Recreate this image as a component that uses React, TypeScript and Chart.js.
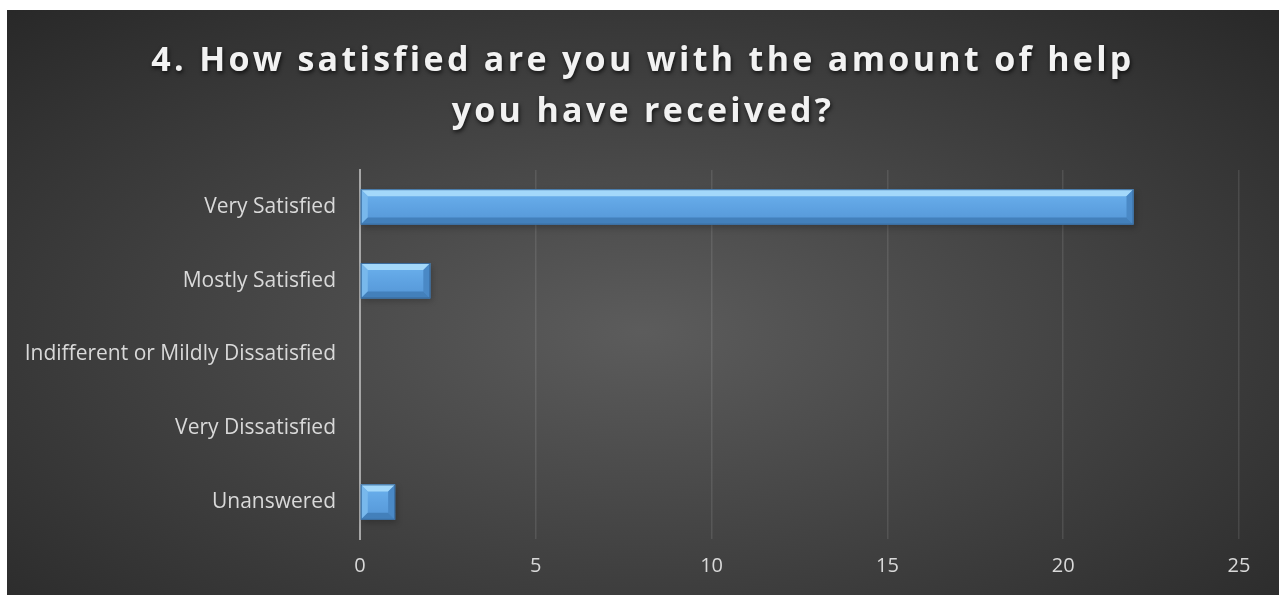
import React, { useEffect, useRef } from "react";
import { Chart, registerables } from "chart.js";

Chart.register(...registerables);

const categories = [
  "Very Satisfied",
  "Mostly Satisfied",
  "Indifferent or Mildly Dissatisfied",
  "Very Dissatisfied",
  "Unanswered",
];
const responses = [22, 2, 0, 0, 1];
const xMin = 0;
const xMax = 25;
const xStep = 5;
const titleLines = [
  "4. How satisfied are you with the amount of help",
  "you have received?",
];

const titlePlugin = {
  id: "bevelTitle",
  afterDraw(chart: any) {
    const ctx = chart.ctx;
    ctx.save();
    ctx.font = "bold 34px 'Open Sans'";
    (ctx as any).letterSpacing = "3.3px";
    ctx.textAlign = "center";
    ctx.textBaseline = "alphabetic";
    ctx.fillStyle = "#f2f2f2";
    ctx.shadowColor = "rgba(0,0,0,0.75)";
    ctx.shadowBlur = 4;
    ctx.shadowOffsetX = 1;
    ctx.shadowOffsetY = 2;
    const cx = chart.width / 2;
    ctx.fillText(titleLines[0], cx, 61);
    ctx.fillText(titleLines[1], cx, 112);
    ctx.restore();
  },
};

const bevelPlugin = {
  id: "bevelBars",
  beforeDatasetsDraw(chart: any) {
    const ctx = chart.ctx;
    const meta = chart.getDatasetMeta(0);
    ctx.save();
    meta.data.forEach((el: any) => {
      const p = el.getProps(["x", "y", "base", "height"], true);
      const x0 = Math.min(p.x, p.base);
      const x1 = Math.max(p.x, p.base);
      if (x1 - x0 < 1) return;
      ctx.shadowColor = "rgba(0,0,0,0.55)";
      ctx.shadowBlur = 6;
      ctx.shadowOffsetX = 2;
      ctx.shadowOffsetY = 3;
      ctx.fillStyle = "rgba(0,0,0,0.4)";
      ctx.fillRect(x0, p.y - p.height / 2, x1 - x0, p.height);
    });
    ctx.restore();
  },
  afterDatasetsDraw(chart: any) {
    const ctx = chart.ctx;
    const meta = chart.getDatasetMeta(0);
    ctx.save();
    meta.data.forEach((el: any) => {
      const p = el.getProps(["x", "y", "base", "height"], true);
      const x0 = Math.min(p.x, p.base);
      const x1 = Math.max(p.x, p.base);
      if (x1 - x0 < 1) return;
      const y0 = p.y - p.height / 2;
      const y1 = p.y + p.height / 2;
      const b = Math.min(7, (x1 - x0) / 2, p.height / 2);
      const g = ctx.createLinearGradient(0, y0, 0, y1);
      g.addColorStop(0, "#6cb2ee");
      g.addColorStop(0.5, "#5fa3e2");
      g.addColorStop(1, "#5496d6");
      ctx.fillStyle = g;
      ctx.fillRect(x0, y0, x1 - x0, y1 - y0);
      const poly = (pts: number[][], color: string) => {
        ctx.beginPath();
        ctx.moveTo(pts[0][0], pts[0][1]);
        for (let i = 1; i < pts.length; i++) ctx.lineTo(pts[i][0], pts[i][1]);
        ctx.closePath();
        ctx.fillStyle = color;
        ctx.fill();
      };
      poly([[x0, y0], [x1, y0], [x1 - b, y0 + b], [x0 + b, y0 + b]], "#a3d8fa");
      poly([[x0, y0], [x0 + b, y0 + b], [x0 + b, y1 - b], [x0, y1]], "#78b8ec");
      poly([[x1, y0], [x1, y1], [x1 - b, y1 - b], [x1 - b, y0 + b]], "#4a89c6");
      poly([[x0, y1], [x1, y1], [x1 - b, y1 - b], [x0 + b, y1 - b]], "#4380bb");
      ctx.strokeStyle = "#3a6c9e";
      ctx.lineWidth = 1;
      ctx.strokeRect(x0 + 0.5, y0 + 0.5, x1 - x0 - 1, y1 - y0 - 1);
    });
    ctx.restore();
  },
};

export default function App() {
  const ref = useRef<HTMLCanvasElement | null>(null);
  useEffect(() => {
    if (!ref.current) return;
    const chart = new Chart(ref.current, {
      type: "bar",
      data: {
        labels: categories,
        datasets: [
          {
            data: responses,
            backgroundColor: "rgba(0,0,0,0)",
            borderWidth: 0,
            categoryPercentage: 1,
            barPercentage: 0.48,
          },
        ],
      },
      options: {
        indexAxis: "y",
        animation: false,
        responsive: false,
        maintainAspectRatio: false,
        events: [],
        layout: { padding: { top: 160, left: 0, right: 40, bottom: 2 } },
        plugins: {
          legend: { display: false },
          title: { display: false },
          tooltip: { enabled: false },
        },
        scales: {
          x: {
            min: xMin,
            max: xMax,
            ticks: {
              stepSize: xStep,
              color: "#d9d9d9",
              font: { family: "'Open Sans'", size: 20 },
              padding: 15,
            },
            grid: {
              color: "rgba(255,255,255,0.1)",
              lineWidth: 1.5,
              drawTicks: false,
            },
            border: { display: false },
          },
          y: {
            ticks: {
              color: "#d9d9d9",
              font: { family: "'Open Sans'", size: 21 },
              padding: 24,
            },
            grid: { display: false, drawTicks: false },
            border: { display: true, color: "#a6a6a6", width: 2 },
            afterFit: (s: any) => {
              s.width = 353;
            },
          },
        },
      },
      plugins: [bevelPlugin, titlePlugin],
    });
    return () => chart.destroy();
  }, []);
  return (
    <div
      style={{
        position: "fixed",
        left: 7,
        top: 10,
        width: 1272,
        height: 585,
        background:
          "radial-gradient(ellipse 75% 80% at 50% 55%, #5c5c5c 0%, #3e3e3e 55%, #262626 100%)",
      }}
    >
      <canvas ref={ref} width={1272} height={585} style={{ display: "block" }} />
    </div>
  );
}
